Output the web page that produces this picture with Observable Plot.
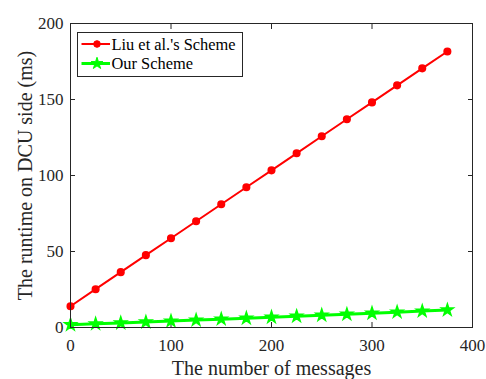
<!DOCTYPE html>
<html>
<head>
<meta charset="utf-8">
<script src="https://cdn.jsdelivr.net/npm/d3@7"></script>
<script src="https://cdn.jsdelivr.net/npm/@observablehq/plot@0.6"></script>
<style>
  html, body { margin: 0; padding: 0; background: white; }
  #wrap { position: relative; width: 486px; height: 379px; }
  #wrap g[aria-label="x-axis label"] text, #wrap g[aria-label="y-axis label"] text { font-size: 20px; }
</style>
</head>
<body>
<div id="wrap"></div>
<script>
const messages = [0, 25, 50, 75, 100, 125, 150, 175, 200, 225, 250, 275, 300, 325, 350, 375];
const liu = [14.0, 25.2, 36.4, 47.6, 58.7, 69.9, 81.1, 92.3, 103.4, 114.6, 125.8, 137.0, 148.1, 159.3, 170.5, 181.6];
const ours = [1.8, 2.4, 3.0, 3.6, 4.2, 4.9, 5.5, 6.1, 6.8, 7.4, 8.1, 8.7, 9.4, 10.1, 10.8, 11.5];
const seriesNames = ["Liu et al.'s Scheme", "Our Scheme"];
const xTicks = [0, 100, 200, 300, 400];
const yTicks = [0, 50, 100, 150, 200];

const RED = "#ff0000", GREEN = "#00ff00", AXIS = "#262626";
const FONT = "Liberation Serif, Times New Roman, serif";
const liuData = messages.map((m, i) => ({x: m, y: liu[i]}));
const ourData = messages.map((m, i) => ({x: m, y: ours[i]}));

const chart = Plot.plot({
  width: 486, height: 379,
  marginLeft: 70, marginRight: 14, marginTop: 23, marginBottom: 52,
  style: {fontFamily: FONT, fontSize: "17px", color: AXIS, background: "white", overflow: "visible"},
  x: {domain: [0, 400]},
  y: {domain: [0, 200]},
  marks: [
    Plot.axisX({anchor: "bottom", ticks: xTicks, tickSize: -5, tickPadding: 16, fontSize: 17,
      label: "The number of messages", labelAnchor: "center", labelArrow: "none", labelOffset: 47}),
    Plot.axisX({anchor: "top", ticks: xTicks, tickSize: -5, tickFormat: () => "", label: null}),
    Plot.axisY({anchor: "left", ticks: yTicks, tickSize: -5, tickPadding: 12, fontSize: 17,
      label: "The runtime on DCU side (ms)", labelAnchor: "center", labelArrow: "none", labelOffset: 53}),
    Plot.axisY({anchor: "right", ticks: yTicks, tickSize: -5, tickFormat: () => "", label: null}),
    Plot.line(liuData, {x: "x", y: "y", stroke: RED, strokeWidth: 2}),
    Plot.dot(liuData, {x: "x", y: "y", fill: RED, stroke: RED, r: 3.3}),
    Plot.line(ourData, {x: "x", y: "y", stroke: GREEN, strokeWidth: 3}),
    Plot.dot(ourData, {x: "x", y: "y", fill: GREEN, stroke: GREEN, symbol: "star", r: 3.7}),
    Plot.frame({stroke: AXIS, strokeWidth: 1})
  ]
});
const wrap = document.getElementById("wrap");
wrap.appendChild(chart);

// Legend, drawn inside the chart's own SVG so it shares its font
const lw = 166, lh = 45;
const svg = d3.select(chart.tagName.toLowerCase() === "svg" ? chart : chart.querySelector("svg"));
const leg = svg.append("g").attr("aria-label", "legend").attr("transform", "translate(77,32)")
  .attr("text-anchor", "start");
leg.append("rect").attr("x", 0.5).attr("y", 0.5).attr("width", lw - 1).attr("height", lh - 1)
  .attr("fill", "white").attr("stroke", AXIS);
const rows = [
  {name: seriesNames[0], color: RED, sym: d3.symbolCircle, size: Math.PI * 3.3 * 3.3, sw: 2, cy: 12},
  {name: seriesNames[1], color: GREEN, sym: d3.symbolStar, size: Math.PI * 3.7 * 3.7, sw: 3, cy: 31.5}
];
rows.forEach(r => {
  leg.append("line").attr("x1", 4.5).attr("x2", 33).attr("y1", r.cy).attr("y2", r.cy)
    .attr("stroke", r.color).attr("stroke-width", r.sw);
  leg.append("path").attr("d", d3.symbol(r.sym, r.size)()).attr("transform", `translate(20,${r.cy})`)
    .attr("fill", r.color).attr("stroke", r.color);
  leg.append("text").attr("x", 34.5).attr("y", r.cy).attr("dy", "0.35em")
    .attr("text-anchor", "start").attr("font-size", 16.4).attr("fill", "black").text(r.name);
});
</script>
</body>
</html>
